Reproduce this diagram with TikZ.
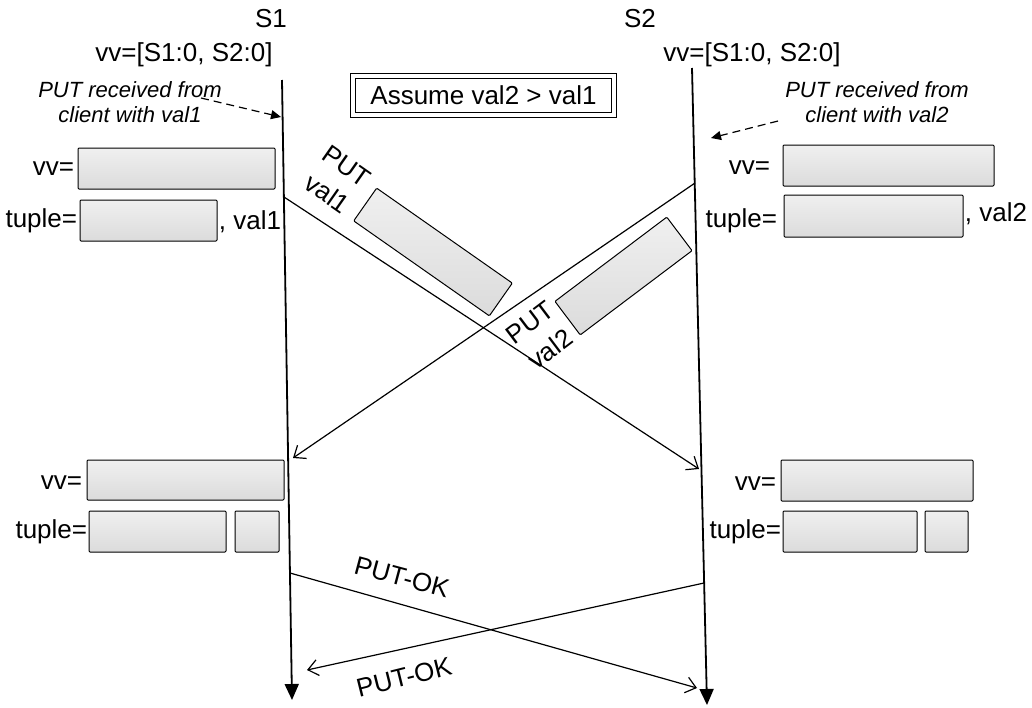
\documentclass[tikz,border=0pt]{standalone}
\usepackage{fontspec}
\setmainfont{Liberation Sans}
\usetikzlibrary{arrows.meta,calc}
\begin{document}
\begin{tikzpicture}[x=0.5pt,y=-0.5pt,
  lbl/.style={font=\fontsize{13}{15}\selectfont, inner sep=0pt},
  note/.style={font=\fontsize{11}{12.5}\selectfont\itshape, align=center, inner sep=0pt},
  valbox/.style={draw=black, line width=0.5pt, top color=gray!12, bottom color=gray!28, rounded corners=0.5pt, inner sep=0pt, minimum height=20.5pt},
  timeline/.style={line width=0.9pt, -{Triangle[length=8pt,width=7pt]}},
  msg/.style={line width=0.6pt, -{Straight Barb[length=5pt,width=8pt]}},
  hint/.style={line width=0.6pt, dash pattern=on 4pt off 2.5pt, -{Triangle[length=5pt,width=4.5pt]}},
  msglbl/.style={font=\fontsize{13}{17}\selectfont, inner sep=0pt, align=center},
]
\useasboundingbox (0,0) rectangle (1032,707);

% headers
\node[lbl] (s1name) at (271,19) {S1};
\node[lbl] (s2name) at (640,19) {S2};
\node[lbl] (s1vv0) at (184,55) {vv=[S1:0, S2:0]};
\node[lbl] (s2vv0) at (752,55) {vv=[S1:0, S2:0]};

% assumption
\node[lbl, draw, double, double distance=1.6pt, line width=0.5pt, minimum width=130.5pt, minimum height=19.5pt] (assume) at (483.5,95.5) {Assume val2 > val1};

% timelines
\coordinate (s1top) at (282,80);
\coordinate (s1bot) at (292,700);
\coordinate (s2top) at (692,68);
\coordinate (s2bot) at (707,705);
\draw[timeline] (s1top) -- (s1bot);
\draw[timeline] (s2top) -- (s2bot);

% client notes
\node[note] (c1) at (130,102) {PUT received from\\client with val1};
\node[note] (c2) at (877,102) {PUT received from\\client with val2};
\coordinate (c1s) at (201,98);
\coordinate (c1e) at (281,117);
\coordinate (c2s) at (778,121);
\coordinate (c2e) at (711,138);
\draw[hint] (c1s) -- (c1e);
\draw[hint] (c2s) -- (c2e);

% top state boxes S1
\node[valbox, minimum width=98.5pt] (t1vv) at (176.5,168.5) {};
\node[lbl, anchor=east] (t1vvl) at ([xshift=-1.5pt]t1vv.west) {vv=};
\node[valbox, minimum width=68.5pt] (t1tu) at (148.5,220.5) {};
\node[lbl, anchor=east] (t1tul) at ([xshift=-1pt]t1tu.west) {tuple=};
\node[lbl, anchor=west] (t1v) at ([xshift=0.5pt,yshift=-0.5pt]t1tu.east) {, val1};

% top state boxes S2
\node[valbox, minimum width=105.5pt] (t2vv) at (888.5,165.5) {};
\node[lbl, anchor=east] (t2vvl) at ([xshift=-6pt,yshift=-1pt]t2vv.west) {vv=};
\node[valbox, minimum width=89.5pt, minimum height=21pt] (t2tu) at (873.5,216) {};
\node[lbl, anchor=east] (t2tul) at ([xshift=-3pt,yshift=-2.5pt]t2tu.west) {tuple=};
\node[lbl, anchor=west] (t2v) at ([xshift=0.5pt,yshift=1pt]t2tu.east) {, val2};

% PUT messages
\coordinate (p1s) at (284,197);
\coordinate (p1e) at (699,469);
\coordinate (p2s) at (695,183);
\coordinate (p2e) at (293,458);
\draw[msg] (p1s) -- (p1e);
\draw[msg] (p2s) -- (p2e);
\node[valbox, minimum width=82.8pt, minimum height=20pt, rotate=-35] (m1box) at (433,252) {};
\node[valbox, minimum width=70pt, minimum height=21pt, rotate=37] (m2box) at (623.5,276) {};
\node[msglbl, rotate=-35] (m1lbl) at (337,180) {PUT\\val1};
\node[msglbl, rotate=37] (m2lbl) at (540,336) {PUT\\val2};

% bottom state boxes S1
\node[valbox, minimum width=98.5pt, minimum height=20pt] (b1vv) at (185.5,480) {};
\node[lbl, anchor=east] (b1vvl) at ([xshift=-2pt,yshift=-1.5pt]b1vv.west) {vv=};
\node[valbox, minimum width=68.5pt] (b1tu) at (157.5,531.5) {};
\node[lbl, anchor=east] (b1tul) at ([xshift=-0.5pt]b1tu.west) {tuple=};
\node[valbox, minimum width=22pt] (b1tv) at (257,531.5) {};

% bottom state boxes S2
\node[valbox, minimum width=96pt] (b2vv) at (877,480.5) {};
\node[lbl, anchor=east] (b2vvl) at ([xshift=-2pt,yshift=-1.5pt]b2vv.west) {vv=};
\node[valbox, minimum width=67pt] (b2tu) at (850,531.5) {};
\node[lbl, anchor=east] (b2tul) at ([xshift=-0.5pt]b2tu.west) {tuple=};
\node[valbox, minimum width=21.5pt] (b2tv) at (946.5,531.5) {};

% PUT-OK messages
\coordinate (k1s) at (290,573);
\coordinate (k1e) at (697,688);
\coordinate (k2s) at (704,583);
\coordinate (k2e) at (307,670);
\draw[msg] (k1s) -- (k1e);
\draw[msg] (k2s) -- (k2e);
\node[msglbl, rotate=-15] (k1lbl) at (402,577) {PUT-OK};
\node[msglbl, rotate=14] (k2lbl) at (404,677) {PUT-OK};
\end{tikzpicture}
\end{document}
